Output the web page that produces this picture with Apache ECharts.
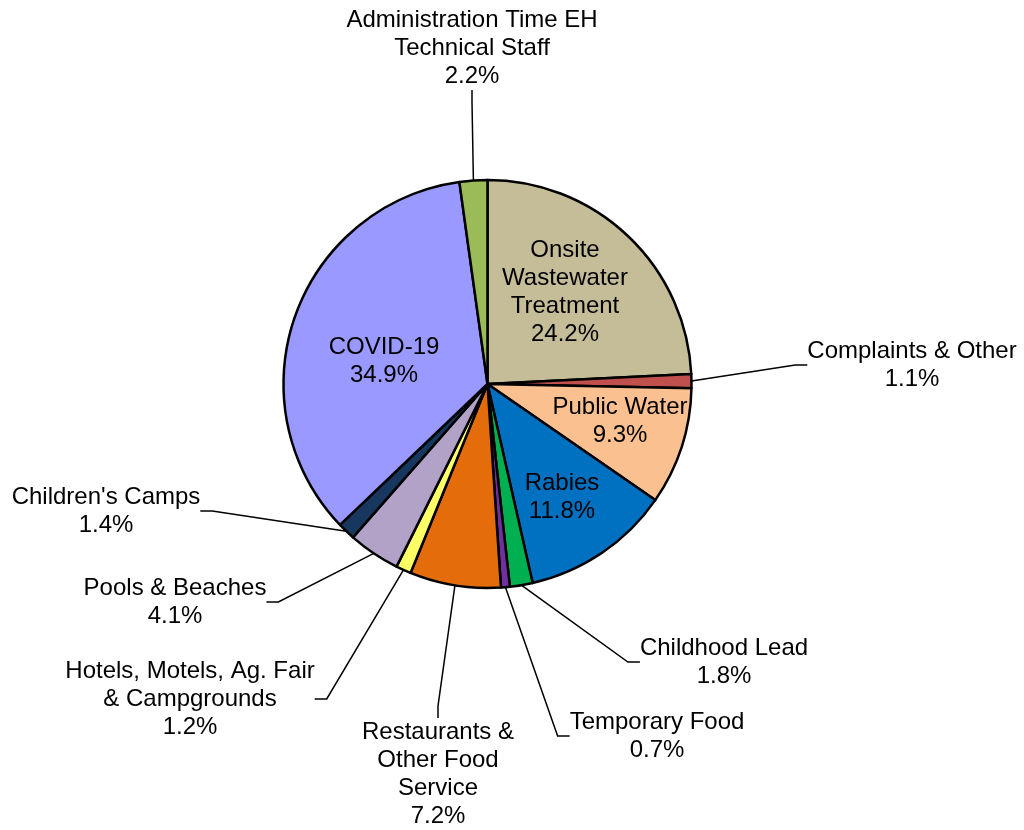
<!DOCTYPE html>
<html>
<head>
<meta charset="utf-8">
<script src="https://cdn.jsdelivr.net/npm/echarts@6/dist/echarts.min.js"></script>
<style>
  html, body { margin: 0; padding: 0; background: #ffffff; }
  #chart { width: 1024px; height: 830px; }
</style>
</head>
<body>
<div id="chart"></div>
<script>
// ---- data ----
const categories = [
  'Onsite\nWastewater\nTreatment',
  'Complaints & Other',
  'Public Water',
  'Rabies',
  'Childhood Lead',
  'Temporary Food',
  'Restaurants &\nOther Food\nService',
  'Hotels, Motels, Ag. Fair\n& Campgrounds',
  'Pools & Beaches',
  "Children's Camps",
  'COVID-19',
  'Administration Time EH\nTechnical Staff'
];
const values = [24.2, 1.1, 9.3, 11.8, 1.8, 0.7, 7.2, 1.2, 4.1, 1.4, 34.9, 2.2];

// ---- styles / layout (kept separate from data) ----
const colors = ['#C4BD97', '#C0504D', '#FAC090', '#0070C0', '#00B050', '#7030A0',
                '#E46C0A', '#FFFF66', '#B3A2C7', '#17375E', '#9999FF', '#9BBB59'];
const insideLabel = [true, false, true, true, false, false, false, false, false, false, true, false];
const labelPos = [[565, 292], [912, 365], [620, 421], [562, 497], [724, 662], [657, 736],
                  [438, 774], [190, 699], [175, 602], [106, 511], [384, 361], [472, 48]];

const chart = echarts.init(document.getElementById('chart'), null, { renderer: 'canvas' });

const seriesData = categories.map((name, i) => ({
  name: name,
  value: values[i],
  itemStyle: { color: colors[i] },
  labelLine: { show: !insideLabel[i] }
}));

chart.setOption({
  animation: false,
  backgroundColor: '#ffffff',
  series: [{
    type: 'pie',
    center: [487.5, 384],
    radius: [0, 204],
    startAngle: 90,
    clockwise: true,
    avoidLabelOverlap: false,
    data: seriesData,
    itemStyle: { borderColor: '#000000', borderWidth: 2.5 },
    emphasis: { disabled: true },
    label: {
      show: true,
      position: 'outside',
      color: '#000000',
      fontFamily: 'Liberation Sans, Arial, sans-serif',
      fontSize: 24,
      lineHeight: 28,
      align: 'center',
      formatter: p => p.name + '\n' + p.value.toFixed(1) + '%'
    },
    labelLine: {
      show: true,
      length: 10,
      length2: 12,
      lineStyle: { color: '#000000', width: 1.5 }
    },
    labelLayout: function (params) {
      const pos = labelPos[params.dataIndex];
      return { x: pos[0], y: pos[1], align: 'center', verticalAlign: 'middle' };
    }
  }]
});
</script>
</body>
</html>
